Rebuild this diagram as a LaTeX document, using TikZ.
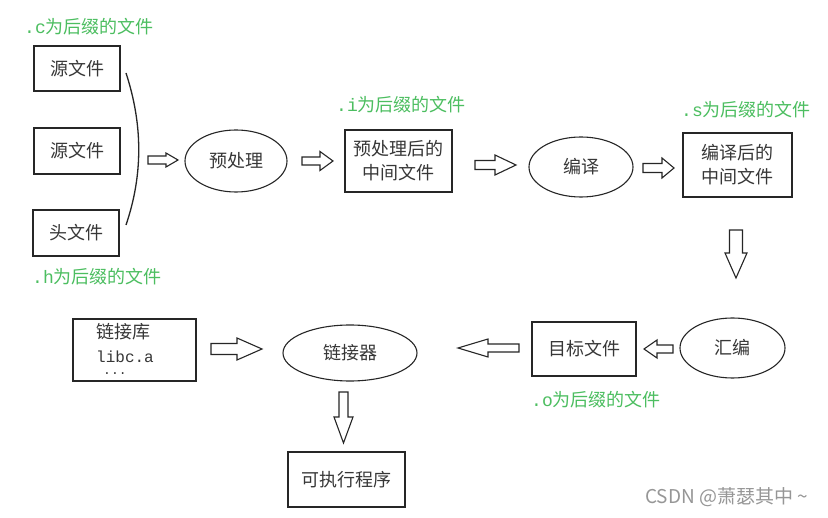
\documentclass[tikz,border=0pt]{standalone}
\usepackage{fontspec}
\setmainfont{Noto Sans CJK SC}
\newfontfamily\latmono{Liberation Mono}
\newfontfamily\wmfont{Noto Sans CJK SC}
\definecolor{lblgreen}{RGB}{76,190,96}
\definecolor{txtgray}{RGB}{55,55,55}
\definecolor{wmgray}{RGB}{150,150,150}
\tikzset{
  box/.style={draw=black!85, line width=1.3pt, rectangle, inner sep=0pt, font=\fontsize{18}{24}\selectfont, text=txtgray, align=center},
  oval/.style={draw=black!85, line width=1.1pt, ellipse, inner sep=0pt, font=\fontsize{18}{24}\selectfont, text=txtgray},
  suffix/.style={anchor=west, inner sep=0pt, text=lblgreen, font=\fontsize{18}{20}\selectfont},
  harrowstyle/.style={draw=black!85, line width=1.1pt, fill=white, line join=miter},
}
\usetikzlibrary{shapes.geometric}
% #1 tail coordinate, #2 rotation, #3 length, #4 head length, #5 head half width, #6 shaft half width
\newcommand\hollowarrow[6]{%
  \begin{scope}[shift={#1}, rotate=#2]
    \draw[harrowstyle] (0,-#6) -- ({#3-#4},-#6) -- ({#3-#4},-#5) -- (#3,0) -- ({#3-#4},#5) -- ({#3-#4},#6) -- (0,#6) -- cycle;
  \end{scope}}
\begin{document}
\begin{tikzpicture}[x=1pt, y=-1pt]
\useasboundingbox (0,0) rectangle (828,518);
\fill[white] (0,0) rectangle (828,518);

% source boxes
\node[box, minimum width=86pt, minimum height=45pt] (src1) at (77,68.5) {源文件};
\node[box, minimum width=86pt, minimum height=46pt] (src2) at (77,151) {源文件};
\node[box, minimum width=86pt, minimum height=46pt] (hdr) at (76,233) {头文件};
\node[suffix] (lc) at (24,27) {{\latmono .c}为后缀的文件};
\node[suffix] (lh) at (32,277) {{\latmono .h}为后缀的文件};

% brace
\coordinate (bt) at (126,73);
\coordinate (bb) at (126,225);
\draw[black!85, line width=1.3pt] (bt) .. controls (143,125) and (143,175) .. (bb);

% top row
\node[oval, minimum width=102pt, minimum height=62pt] (pre) at (236,161) {预处理};
\node[box, minimum width=107pt, minimum height=62pt] (mid1) at (398.5,161) {预处理后的\\中间文件};
\node[suffix] (li) at (336,105) {{\latmono .i}为后缀的文件};
\node[oval, minimum width=104pt, minimum height=60pt] (comp) at (581,167) {编译};
\node[box, minimum width=109pt, minimum height=64pt] (mid2) at (737.5,165) {编译后的\\中间文件};
\node[suffix] (ls) at (681,110) {{\latmono .s}为后缀的文件};

% bottom row
\node[oval, minimum width=105pt, minimum height=60pt] (asm) at (732.5,348) {汇编};
\node[box, minimum width=104pt, minimum height=54pt] (obj) at (584,349) {目标文件};
\node[suffix] (lo) at (531,400) {{\latmono .o}为后缀的文件};
\node[oval, minimum width=134pt, minimum height=56pt] (link) at (350,353) {\raisebox{2pt}{链接器}};
\node[box, minimum width=123pt, minimum height=62pt] (lib) at (134.5,350) {};
\node[anchor=west, inner sep=0pt, text=txtgray, font=\fontsize{18}{20}\selectfont] (libt1) at (96,332) {链接库};
\node[anchor=west, inner sep=0pt, text=txtgray, font=\latmono\fontsize{16}{18}\selectfont] (libt2) at (96,357) {libc.a};
\node[anchor=base west, inner sep=0pt, text=txtgray, font=\latmono\fontsize{13}{14}\selectfont] (libt3) at (103,375) {...};
\node[box, minimum width=117pt, minimum height=55pt] (exe) at (346.5,479.5) {可执行程序};

% hollow arrows
\hollowarrow{(148,160)}{0}{30}{12}{7}{4}
\hollowarrow{(302,161)}{0}{31}{13}{9.5}{4}
\hollowarrow{(475,165)}{0}{41}{21}{10}{4.5}
\hollowarrow{(643,168)}{0}{31}{12}{10}{4.5}
\hollowarrow{(736,230)}{-90}{48}{25}{11}{6.5}
\hollowarrow{(673,349)}{180}{29}{13}{9}{4}
\hollowarrow{(519,348)}{180}{61}{30}{9}{4}
\hollowarrow{(211,349)}{0}{51}{25}{11}{5.5}
\hollowarrow{(343.5,392)}{-90}{51}{26}{9.5}{4.5}

% watermark
\node[anchor=west, inner sep=0pt, text=wmgray, font=\wmfont\fontsize{19}{20}\selectfont] (wm) at (645,497) {CSDN @萧瑟其中 \textasciitilde};
\end{tikzpicture}
\end{document}
